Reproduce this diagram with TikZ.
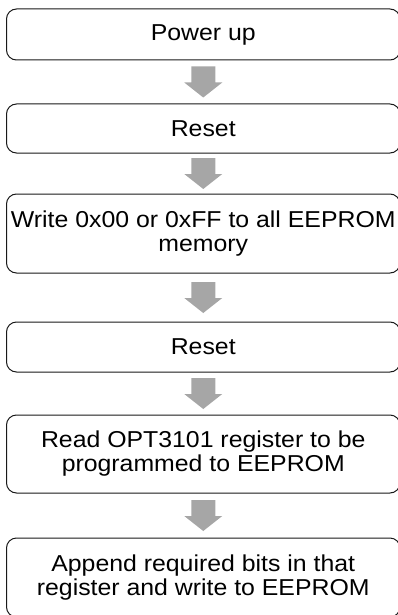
\documentclass[tikz,border=0pt]{standalone}
\usepackage{fontspec}
\setmainfont{Liberation Sans}[FakeStretch=1.08]
\usetikzlibrary{calc}
\definecolor{arrowgray}{HTML}{A6A6A6}
\tikzset{
    stepbox/.style={draw=black!90, line width=1pt, rounded corners=10pt, fill=white,
        minimum width=393.5pt, inner sep=0pt, align=center,
        font=\fontsize{23}{24}\selectfont},
}

\begin{document}
\begin{tikzpicture}[x=1pt, y=1pt]
    \useasboundingbox (0,0) rectangle (398,-615);
    \clip (0,0) rectangle (398,-615);

    % Steps of the flow
    \node[stepbox, minimum height=51pt] (pwr) at (203.25,-34.5) {Power up};
    \node[stepbox, minimum height=49pt] (rsta) at (203.25,-128.5) {Reset};
    \node[stepbox, minimum height=79pt] (wipe) at (203.25,-233.5) {Write 0x00 or 0xFF to all EEPROM\\memory};
    \node[stepbox, minimum height=50pt] (rstb) at (203.25,-347) {Reset};
    \node[stepbox, minimum height=78pt] (rd) at (203.25,-454) {Read OPT3101 register to be\\programmed to EEPROM};
    \node[stepbox, minimum height=79pt] (wr) at (203.25,-577.5) {Append required bits in that\\register and write to EEPROM};

    % Fat arrows between the steps
    \foreach \a/\b in {pwr/rsta, rsta/wipe, wipe/rstb, rstb/rd, rd/wr} {
        \coordinate (m) at ($(\a.south)!0.5!(\b.north)$);
        \fill[arrowgray] ($(m)+(-12,15.5)$) -- ($(m)+(12,15.5)$) -- ($(m)+(12,-0.5)$)
            -- ($(m)+(19,-0.5)$) -- ($(m)+(0,-15.5)$) -- ($(m)+(-19,-0.5)$)
            -- ($(m)+(-12,-0.5)$) -- cycle;
    }
\end{tikzpicture}
\end{document}
